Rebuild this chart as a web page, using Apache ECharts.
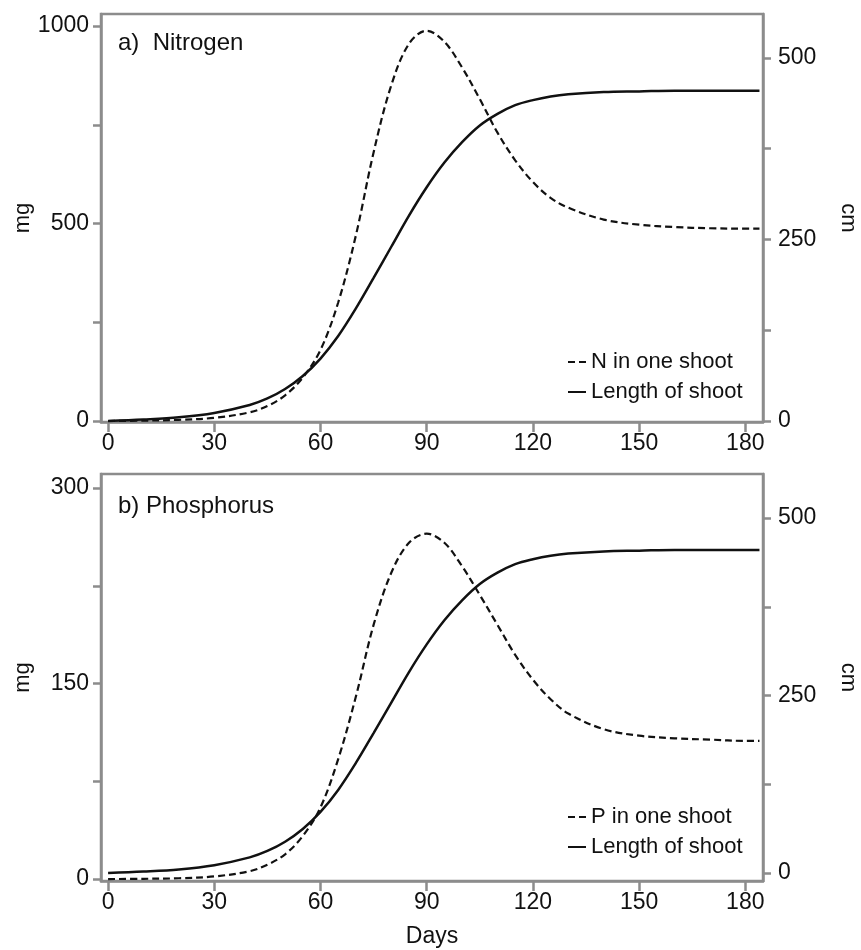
<!DOCTYPE html>
<html>
<head>
<meta charset="utf-8">
<script src="https://cdn.jsdelivr.net/npm/echarts@6/dist/echarts.min.js"></script>
<style>
html,body{margin:0;padding:0;background:#fff;}
#chart{width:861px;height:950px;}
</style>
</head>
<body>
<div id="chart"></div>
<script>
// ---- data ----
const days = [0,10,20,30,40,45,50,55,60,65,70,75,80,85,90,95,100,105,110,115,120,125,130,140,150,160,170,180,184];
const nitrogenMg = [0,1,3,8,22,38,65,110,180,300,470,680,850,955,988,960,895,815,730,660,605,565,540,510,497,491,488,487,487];
const lengthCmA = [0,2,5,11,22,31,44,62,86,117,155,197,240,283,322,356,384,407,423,435,442,447,450,453,454,455,455,455,455];
const phosphorusMg = [0,0.2,0.6,2,6,11,19,33,55,92,140,195,235,258,265,258,240,218,195,172,153,138,127,115,110,108,107,106,106];
const lengthCmB = [0,2,5,11,22,31,44,62,86,117,155,197,240,283,322,356,384,407,423,435,442,447,450,453,454,455,455,455,455];

const xTicks = [0,30,60,90,120,150,180];
const mgLabelsA = [0,500,1000];
const mgTicksA = [0,250,500,750,1000];
const mgLabelsB = [0,150,300];
const mgTicksB = [0,75,150,225,300];
const cmLabels = [0,250,500];
const cmTicks = [0,125,250,375,500];

const titles = ['a)  Nitrogen', 'b) Phosphorus'];
const seriesNames = ['N in one shoot', 'Length of shoot', 'P in one shoot'];

// ---- chart ----
const pairs = (vals) => days.map((d, i) => [d, vals[i]]);
const axisGrey = '#8c8c8c';
const txt = '#111';
const FONT = '"Liberation Sans", Arial, sans-serif';

function xAxis(gridIndex, withName) {
  return {
    type: 'value', gridIndex, min: -2, max: 185,
    axisLine: {show: true, onZero: false, lineStyle: {color: axisGrey, width: 2.5}},
    axisTick: {show: true, length: 10, customValues: xTicks, lineStyle: {color: axisGrey, width: 2.5}},
    axisLabel: {customValues: xTicks, color: txt, fontSize: 23, fontFamily: FONT, margin: 10, formatter: v => String(v)},
    splitLine: {show: false},
    name: withName ? 'Days' : '', nameLocation: 'middle', nameGap: 44, nameMoveOverlap: false,
    nameTextStyle: {color: txt, fontSize: 23, fontFamily: FONT}
  };
}
function yAxis(gridIndex, pos, min, max, labels, ticks, name) {
  const left = pos === 'left';
  return {
    type: 'value', gridIndex, position: pos, min, max,
    axisLine: {show: true, onZero: false, lineStyle: {color: axisGrey, width: 2.5}},
    axisTick: {show: true, length: 8, customValues: ticks, lineStyle: {color: axisGrey, width: 2.5}},
    axisLabel: {customValues: labels, color: txt, fontSize: 23, fontFamily: FONT, margin: left ? 12 : 15, formatter: v => String(v)},
    splitLine: {show: false},
    name, nameLocation: 'middle', nameGap: left ? 67 : 74, nameRotate: left ? 90 : -90, nameMoveOverlap: false,
    nameTextStyle: {color: txt, fontSize: 22, fontFamily: FONT}
  };
}

const chart = echarts.init(document.getElementById('chart'), null, {renderer: 'canvas'});
chart.setOption({
  backgroundColor: '#fff',
  animation: false,
  title: [
    {text: titles[0], left: 113, top: 26, textStyle: {color: txt, fontSize: 24, fontWeight: 'normal', fontFamily: FONT}},
    {text: titles[1], left: 113, top: 489, textStyle: {color: txt, fontSize: 24, fontWeight: 'normal', fontFamily: FONT}}
  ],
  grid: [
    {left: 101, top: 14, width: 662, height: 408, show: true, borderColor: axisGrey, borderWidth: 2.5, containLabel: false, outerBoundsMode: 'none'},
    {left: 101, top: 474, width: 662, height: 407, show: true, borderColor: axisGrey, borderWidth: 2.5, containLabel: false, outerBoundsMode: 'none'}
  ],
  legend: [
    {orient: 'vertical', left: 562, top: 346, itemWidth: 18, itemHeight: 10, itemGap: 8,
     data: [seriesNames[0], seriesNames[1]], selectedMode: false, itemStyle: {opacity: 0},
     textStyle: {color: txt, fontSize: 22, fontFamily: FONT}},
    {orient: 'vertical', left: 562, top: 801, itemWidth: 18, itemHeight: 10, itemGap: 8,
     data: [seriesNames[2], seriesNames[1]], selectedMode: false, itemStyle: {opacity: 0},
     textStyle: {color: txt, fontSize: 22, fontFamily: FONT}}
  ],
  xAxis: [xAxis(0, false), xAxis(1, true)],
  yAxis: [
    yAxis(0, 'left', -2.5, 1030.4, mgLabelsA, mgTicksA, 'mg'),
    yAxis(0, 'right', -1.4, 560.6, cmLabels, cmTicks, 'cm'),
    yAxis(1, 'left', -1.5, 310.8, mgLabelsB, mgTicksB, 'mg'),
    yAxis(1, 'right', -11.3, 562, cmLabels, cmTicks, 'cm')
  ],
  series: [
    {name: seriesNames[0], type: 'line', xAxisIndex: 0, yAxisIndex: 0, data: pairs(nitrogenMg),
     symbol: 'none', smooth: 0.35, lineStyle: {color: '#111', width: 2.2, type: [7, 4]}, itemStyle: {color: '#111'}},
    {name: seriesNames[1], type: 'line', xAxisIndex: 0, yAxisIndex: 1, data: pairs(lengthCmA),
     symbol: 'none', smooth: 0.35, lineStyle: {color: '#111', width: 2.5, type: 'solid'}, itemStyle: {color: '#111'}},
    {name: seriesNames[2], type: 'line', xAxisIndex: 1, yAxisIndex: 2, data: pairs(phosphorusMg),
     symbol: 'none', smooth: 0.35, lineStyle: {color: '#111', width: 2.2, type: [7, 4]}, itemStyle: {color: '#111'}},
    {name: seriesNames[1], type: 'line', xAxisIndex: 1, yAxisIndex: 3, data: pairs(lengthCmB),
     symbol: 'none', smooth: 0.35, lineStyle: {color: '#111', width: 2.5, type: 'solid'}, itemStyle: {color: '#111'}}
  ]
});
</script>
</body>
</html>
